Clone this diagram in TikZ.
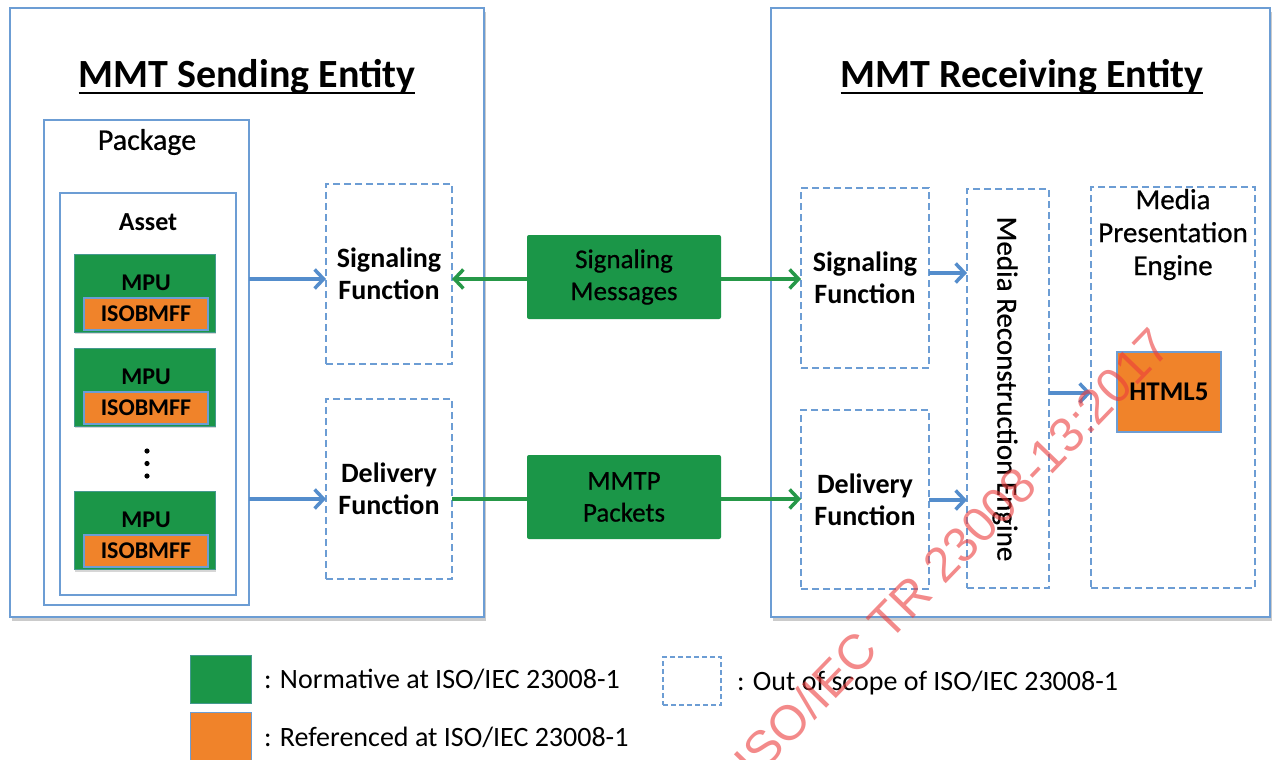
\documentclass[tikz,border=0pt]{standalone}
\usepackage{fontspec}
\setmainfont{Carlito}
\newfontfamily\medfont[FakeBold=0.6]{Carlito}
\newfontfamily\wmfont{Liberation Sans}
\usetikzlibrary{arrows.meta,shadows,calc}
\definecolor{boxblue}{RGB}{108,157,212}
\definecolor{arrblue}{RGB}{84,141,204}
\definecolor{mmtgreen}{RGB}{27,150,72}
\definecolor{arrgreen}{RGB}{38,152,72}
\definecolor{mmtorange}{RGB}{240,131,42}
\definecolor{wmred}{RGB}{236,60,60}
\newcommand\fsz[2]{\fontsize{#1}{#2}\selectfont}
\begin{document}
\begin{tikzpicture}[x=1pt,y=-1pt,
  every node/.style={inner sep=0pt, outer sep=0pt},
  entity/.style={draw=boxblue, line width=2pt, fill=white,
    drop shadow={shadow xshift=1.5pt, shadow yshift=-4pt, fill=black!40, opacity=0.5}},
  solidbox/.style={draw=boxblue, line width=2pt, fill=white},
  scopebox/.style={draw=boxblue, line width=2.3pt, dash pattern=on 7pt off 4pt, fill=white},
  normbox/.style={fill=mmtgreen, draw=boxblue!50!mmtgreen, line width=1pt,
    drop shadow={shadow xshift=1pt, shadow yshift=-2pt, fill=black!40, opacity=0.4}},
  msgbox/.style={fill=mmtgreen, rounded corners=2pt, align=center, font=\medfont\fsz{27}{32}},
  refbox/.style={fill=mmtorange, draw=boxblue, line width=1.5pt},
  fnbox/.style={scopebox, align=center, font=\fsz{28}{32}\bfseries},
  titletext/.style={font=\fsz{40}{46}\bfseries, anchor=base},
  barrow/.style={draw=arrblue, line width=3.5pt, -{Straight Barb[length=9pt,width=19pt]}},
  garrow/.style={draw=arrgreen, line width=3.5pt, -{Straight Barb[length=9pt,width=19pt]}},
  gline/.style={draw=arrgreen, line width=3.5pt},
  legendtext/.style={font=\fsz{28}{32}, anchor=west}
]
\useasboundingbox (0,0) rectangle (1277,760);
\fill[white] (0,0) rectangle (1277,760);

% ---------------- Sending entity ----------------
\node[entity, minimum width=474, minimum height=609] (send) at (247,312.5) {};
\node[titletext] (tL) at (247,88) {MMT Sending Entity};
\draw[line width=2pt] ($(tL.base west)+(0,5)$) -- ($(tL.base east)+(0,5)$);

\node[solidbox, minimum width=205, minimum height=485] (package) at (146.5,362.5) {};
\node[font=\medfont\fsz{30}{34}] (pkgtxt) at (147,142) {Package};
\node[solidbox, minimum width=176, minimum height=402] (asset) at (148,394) {};
\node[font=\fsz{26}{30}\bfseries] (assettxt) at (148,222) {Asset};

\node[normbox, minimum width=141, minimum height=78] (mpu1) at (144.5,293) {};
\node[font=\fsz{24}{28}\bfseries] (mpu1t) at (146,283) {MPU};
\node[refbox, minimum width=124, minimum height=32, font=\fsz{24}{28}\bfseries] (iso1) at (146,314) {ISOBMFF};

\node[normbox, minimum width=141, minimum height=78] (mpu2) at (144.5,387) {};
\node[font=\fsz{24}{28}\bfseries] (mpu2t) at (146,377) {MPU};
\node[refbox, minimum width=124, minimum height=32, font=\fsz{24}{28}\bfseries] (iso2) at (146,408) {ISOBMFF};

\fill (147,451) circle (2.6) (147,463.5) circle (2.6) (147,476) circle (2.6);

\node[normbox, minimum width=141, minimum height=78] (mpu3) at (144.5,530.5) {};
\node[font=\fsz{24}{28}\bfseries] (mpu3t) at (146,520) {MPU};
\node[refbox, minimum width=124, minimum height=32, font=\fsz{24}{28}\bfseries] (iso3) at (146,551) {ISOBMFF};

\node[fnbox, minimum width=126, minimum height=180] (sigL) at (389,274) {Signaling\\Function};
\node[fnbox, minimum width=126, minimum height=180] (dlvL) at (389,489) {Delivery\\Function};

\draw[barrow] (package.east |- 0,279) -- (sigL.west |- 0,279);
\draw[barrow] (package.east |- 0,499) -- (dlvL.west |- 0,499);

% ---------------- Receiving entity ----------------
\node[entity, minimum width=499, minimum height=609] (recv) at (1020.5,312.5) {};
\node[titletext] (tR) at (1022,88) {MMT Receiving Entity};
\draw[line width=2pt] ($(tR.base west)+(0,5)$) -- ($(tR.base east)+(0,5)$);

\node[fnbox, minimum width=128, minimum height=180] (sigR) at (865,278) {Signaling\\Function};
\node[fnbox, minimum width=128, minimum height=179] (dlvR) at (865,499.5) {Delivery\\Function};
\node[scopebox, minimum width=82, minimum height=399] (mre) at (1008,388.5) {};
\node[font=\medfont\fsz{29}{32}, rotate=-90] (mretxt) at (1005,389) {Media Reconstruction Engine};
\node[scopebox, minimum width=164, minimum height=401] (mpe) at (1173,387.5) {};
\node[font=\medfont\fsz{29}{33}, align=center, anchor=north] (mpetxt) at (1173,189) {Media\\Presentation\\Engine};
\node[refbox, minimum width=104, minimum height=80, font=\fsz{27}{30}\bfseries] (html) at (1169,392) {HTML5};

\draw[barrow] (sigR.east |- 0,273) -- (mre.west |- 0,273);
\draw[barrow] (dlvR.east |- 0,500) -- (mre.west |- 0,500);
\draw[barrow] (mre.east |- 0,393) -- (mpe.west |- 0,393);

% ---------------- Messages ----------------
\node[msgbox, minimum width=194, minimum height=84] (smsg) at (624,277) {Signaling\\Messages};
\node[msgbox, minimum width=194, minimum height=84] (mmtp) at (624,497) {MMTP\\Packets};

\draw[garrow] (smsg.west |- 0,279) -- (sigL.east |- 0,279);
\draw[garrow] (smsg.east |- 0,279) -- (sigR.west |- 0,279);
\draw[gline] (dlvL.east |- 0,499) -- (mmtp.west |- 0,499);
\draw[garrow] (mmtp.east |- 0,499) -- (dlvR.west |- 0,499);

% ---------------- Legend ----------------
\node[fill=mmtgreen, draw=boxblue!50!mmtgreen, line width=1pt, minimum width=61, minimum height=48] (lgN) at (220.5,679) {};
\node[fill=mmtorange, draw=boxblue, line width=1pt, minimum width=61, minimum height=48] (lgR) at (220.5,736) {};
\node[draw=boxblue, line width=2pt, dash pattern=on 5pt off 3pt, minimum width=58, minimum height=48] (lgO) at (692,681) {};
\node[legendtext] (lgNt) at (264,679) {: Normative at ISO/IEC 23008-1};
\node[legendtext] (lgRt) at (264,737) {: Referenced at ISO/IEC 23008-1};
\node[legendtext] (lgOt) at (737,683) {: Out of scope of ISO/IEC 23008-1};

% ---------------- Watermark ----------------
\node[font=\wmfont\fsz{49}{49}, text=wmred, text opacity=0.6, rotate=46] (wm) at (952,553) {ISO/IEC TR 23008-13:2017};
\end{tikzpicture}
\end{document}
